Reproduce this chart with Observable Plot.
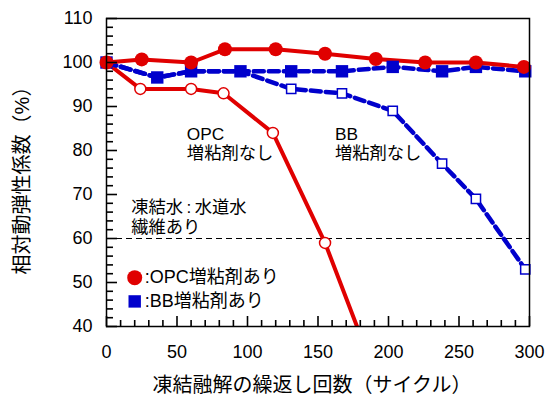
<!DOCTYPE html>
<html><head><meta charset="utf-8">
<script src="https://cdn.jsdelivr.net/npm/d3@7"></script>
<script src="https://cdn.jsdelivr.net/npm/@observablehq/plot@0.6"></script>
<style>body{margin:0;background:#fff}</style>
</head><body><div id="chart"></div>
<script>
// Data (cycles, relative dynamic modulus %)
const opcWithX = [0, 25, 60, 84, 120, 155, 191, 226, 262, 296];
const opcWithY = [100, 100.7, 100, 103, 103, 102, 100.8, 100, 100, 99];
const opcWithoutX = [0, 24, 60, 83, 118, 155, 192];
const opcWithoutY = [100, 94, 94, 93, 84, 59, 28];
const bbWithX = [0, 36, 60, 95, 131, 167, 203, 238, 262, 297];
const bbWithY = [100, 96.6, 98, 98, 98, 98, 99, 98, 99, 98];
const bbWithoutX = [0, 36, 60, 95, 131, 167, 203, 238, 262, 297];
const bbWithoutY = [100, 96.6, 98, 98, 94, 93, 89, 77, 69, 53];
const xTicks = [0, 50, 100, 150, 200, 250, 300];
const yTicks = [40, 50, 60, 70, 80, 90, 100, 110];
const xMinor = d3.range(0, 301, 10).filter(v => v % 50 !== 0);
const yMinor = d3.range(40, 111, 2).filter(v => v % 10 !== 0);
const threshold = 60;
const xTitle = "凍結融解の繰返し回数（サイクル）";
const yTitle = "相対動弾性係数（%）";
const notes = [
  {text: "OPC\n増粘剤なし", x: 57, y: 81.6},
  {text: "BB\n増粘剤なし", x: 162, y: 81.6},
  {text: "凍結水\u2009:\u2009水道水\n繊維あり", x: 17.5, y: 64.9}
];
const legendOPC = {label: ":OPC増粘剤あり", x: 20, y: 51.1};
const legendBB = {label: ":BB増粘剤あり", x: 20, y: 45.7};

const RED = "#e00000", BLUE = "#0000cc";
const W = 546, H = 409, ML = 106, MR = 17, MT = 18, MB = 83;
const X0 = 0, X1 = 300, Y0 = 40, Y1 = 110;
const pxX = (X1 - X0) / (W - ML - MR);
const pxY = (Y1 - Y0) / (H - MT - MB);
const pts = (xs, ys) => xs.map((x, i) => ({x, y: ys[i]}));
const opcWith = pts(opcWithX, opcWithY);
const opcWithout = pts(opcWithoutX, opcWithoutY);
const bbWith = pts(bbWithX, bbWithY);
const bbWithout = pts(bbWithoutX, bbWithoutY);
const inside = d => d.y >= Y0;

const chart = Plot.plot({
  width: W, height: H,
  marginLeft: ML, marginRight: MR, marginTop: MT, marginBottom: MB,
  style: {fontFamily: "'Liberation Sans', 'Noto Sans CJK JP', sans-serif", fontSize: "18px", color: "#000", background: "#fff"},
  x: {domain: [X0, X1]},
  y: {domain: [Y0, Y1]},
  marks: [
    Plot.ruleY([threshold], {stroke: "#000", strokeWidth: 1, strokeDasharray: "6,4"}),
    Plot.line(opcWithout, {x: "x", y: "y", stroke: RED, strokeWidth: 4, clip: true}),
    Plot.line(bbWithout, {x: "x", y: "y", stroke: BLUE, strokeWidth: 4.5, strokeDasharray: "10,5", clip: true}),
    Plot.line(bbWith, {x: "x", y: "y", stroke: BLUE, strokeWidth: 4.5, strokeDasharray: "10,5"}),
    Plot.line(opcWith, {x: "x", y: "y", stroke: RED, strokeWidth: 4}),
    Plot.dot(opcWithout.filter(inside), {x: "x", y: "y", r: 5.5, fill: "#fff", stroke: RED, strokeWidth: 1.5}),
    Plot.dot(bbWithout.filter(inside), {x: "x", y: "y", symbol: "square", r: 5.2, fill: "#fff", stroke: BLUE, strokeWidth: 1.5}),
    Plot.dot(bbWith, {x: "x", y: "y", symbol: "square", r: 7, fill: BLUE}),
    Plot.dot(opcWith, {x: "x", y: "y", r: 7, fill: RED}),
    Plot.frame({stroke: "#000", strokeWidth: 1.5}),
    // inward tick marks, drawn above the frame
    Plot.ruleX(xMinor, {x: d => d, y1: Y0, y2: Y0 + 6 * pxY, stroke: "#000", strokeWidth: 1.6}),
    Plot.ruleX(xTicks, {x: d => d, y1: Y0, y2: Y0 + 10 * pxY, stroke: "#000", strokeWidth: 1.6}),
    Plot.ruleY(yMinor, {y: d => d, x1: X0, x2: X0 + 7 * pxX, stroke: "#000", strokeWidth: 1.6}),
    Plot.ruleY(yTicks, {y: d => d, x1: X0, x2: X0 + 11 * pxX, stroke: "#000", strokeWidth: 1.6}),
    // axis labels
    Plot.axisX(xTicks, {tickSize: 0, tickPadding: 19, fontSize: 18, label: null}),
    Plot.axisY(yTicks, {tickSize: 0, tickPadding: 14, fontSize: 18, label: null}),
    // titles
    Plot.text([xTitle], {frameAnchor: "bottom", textAnchor: "middle", lineAnchor: "middle", dy: 59, dx: -6, fontSize: 20}),
    Plot.text([yTitle], {frameAnchor: "left", textAnchor: "middle", lineAnchor: "middle", dx: -84, dy: 3, rotate: -90, fontSize: 20}),
    // annotations
    Plot.text(notes, {x: "x", y: "y", text: "text", textAnchor: "start", lineHeight: 1.12, fontSize: 17.3}),
    // legend
    Plot.dot([legendOPC], {x: "x", y: "y", r: 7.5, fill: RED}),
    Plot.text([legendOPC], {x: "x", y: "y", text: "label", textAnchor: "start", dx: 10, fontSize: 18}),
    Plot.dot([legendBB], {x: "x", y: "y", symbol: "square", r: 7, fill: BLUE}),
    Plot.text([legendBB], {x: "x", y: "y", text: "label", textAnchor: "start", dx: 10, fontSize: 18})
  ]
});
document.getElementById("chart").appendChild(chart);
</script>
</body></html>
